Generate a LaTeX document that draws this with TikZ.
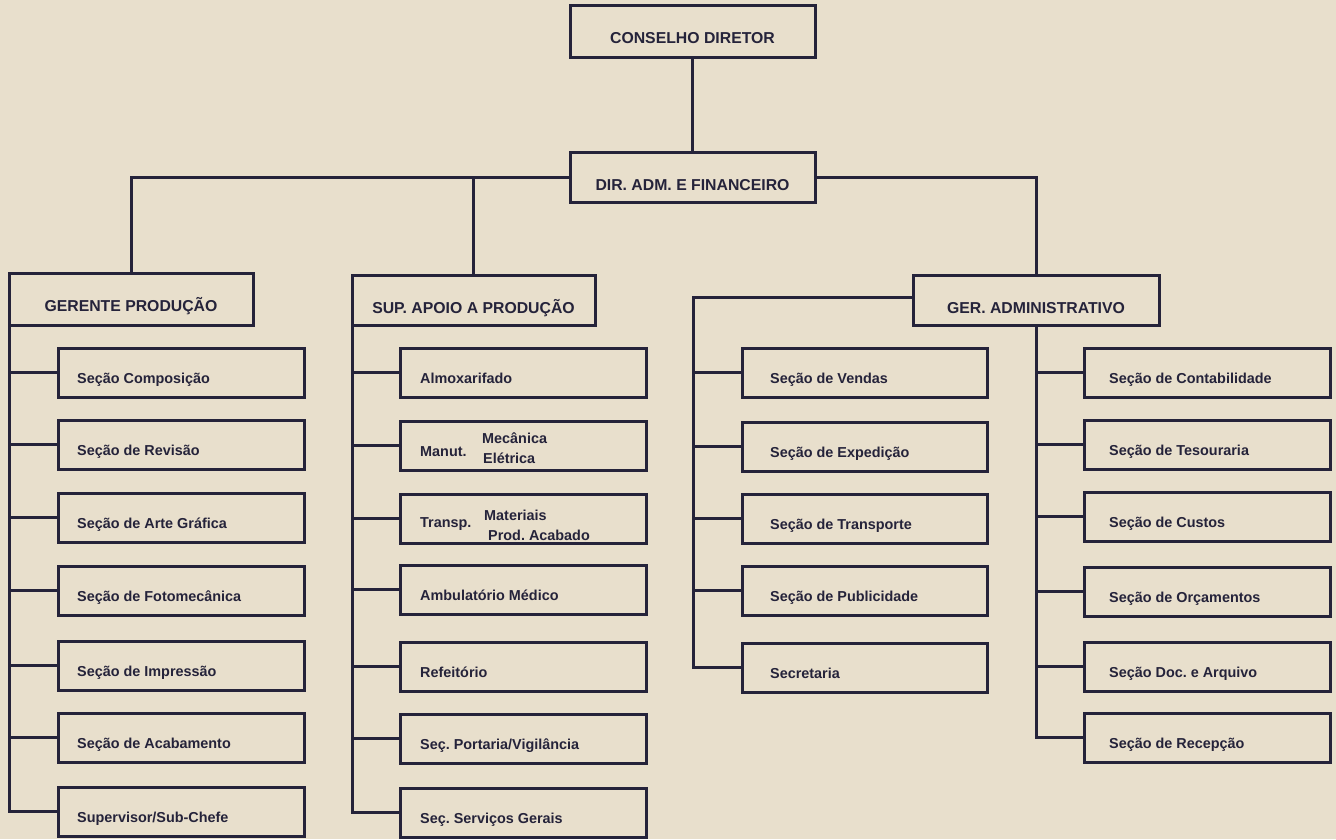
\documentclass[tikz,border=0pt]{standalone}
\usepackage{fontspec}
\setmainfont{Liberation Sans}
\frenchspacing
\usetikzlibrary{fit}
\definecolor{paper}{HTML}{E8DFCC}
\definecolor{ink}{HTML}{25233A}
% header box: name, x1, y1, x2, y2, text
\newcommand\hdbox[6]{%
  \node[orgbox, fit={(#2,#3) (#4,#5)}] (#1) {};
  \node[hdtext] (#1-t) at ([yshift=-38pt]#1.north) {#6};}
% section box: name, x1, top, x2, text offset, text
\newcommand\secbox[6]{%
  \node[orgbox, fit={(#2,#3) (#4,#3+49)}] (#1) {};
  \node[sectext] (#1-t) at ([xshift=#5pt,yshift=-35pt]#1.north west) {#6};}
\begin{document}
\begin{tikzpicture}[x=1pt,y=-1pt,
  orgbox/.style={draw=ink, line width=3pt, inner sep=0pt, outer sep=0pt},
  conn/.style={draw=ink, line width=3pt},
  hdtext/.style={font=\fontsize{15.8}{18}\selectfont\bfseries\frenchspacing, text=ink, inner sep=0pt, anchor=base},
  sectext/.style={font=\fontsize{14.4}{17}\selectfont\bfseries\frenchspacing, text=ink, inner sep=0pt, anchor=base west}]
\fill[paper] (0,0) rectangle (1336,839);
\useasboundingbox (0,0) rectangle (1336,839);

% headers
\hdbox{cd}{570}{5}{815}{57}{CONSELHO DIRETOR}
\hdbox{dir}{570}{152}{815}{202}{DIR. ADM. E FINANCEIRO}
\hdbox{gp}{9}{273}{253}{325}{GERENTE PRODUÇÃO}
\hdbox{sp}{352}{275}{595}{325}{SUP. APOIO A PRODUÇÃO}
\hdbox{ga}{913}{275}{1159}{325}{GER. ADMINISTRATIVO}

% column 1
\secbox{a1}{58}{348}{304}{19}{Seção Composição}
\secbox{a2}{58}{420}{304}{19}{Seção de Revisão}
\secbox{a3}{58}{493}{304}{19}{Seção de Arte Gráfica}
\secbox{a4}{58}{566}{304}{19}{Seção de Fotomecânica}
\secbox{a5}{58}{641}{304}{19}{Seção de Impressão}
\secbox{a6}{58}{713}{304}{19}{Seção de Acabamento}
\secbox{a7}{58}{787}{304}{19}{Supervisor/Sub-Chefe}

% column 2
\secbox{b1}{400}{348}{646}{20}{Almoxarifado}
\secbox{b2}{400}{421}{646}{20}{Manut.}
\node[sectext] (b2-m) at (482,443) {Mecânica};
\node[sectext] (b2-e) at (483,463) {Elétrica};
\node[orgbox, fit={(400,494) (646,543)}] (b3) {};
\node[sectext] (b3-t) at (420,527) {Transp.};
\node[sectext] (b3-m) at (484,520) {Materiais};
\node[sectext] (b3-p) at (488,540) {Prod. Acabado};
\secbox{b4}{400}{565}{646}{20}{Ambulatório Médico}
\secbox{b5}{400}{642}{646}{20}{Refeitório}
\secbox{b6}{400}{714}{646}{20}{Seç. Portaria/Vigilância}
\secbox{b7}{400}{788}{646}{20}{Seç. Serviços Gerais}

% column 3
\secbox{c1}{742}{348}{987}{28}{Seção de Vendas}
\secbox{c2}{742}{422}{987}{28}{Seção de Expedição}
\secbox{c3}{742}{494}{987}{28}{Seção de Transporte}
\secbox{c4}{742}{566}{987}{28}{Seção de Publicidade}
\secbox{c5}{742}{643}{987}{28}{Secretaria}

% column 4
\secbox{d1}{1084}{348}{1330}{25}{Seção de Contabilidade}
\secbox{d2}{1084}{420}{1330}{25}{Seção de Tesouraria}
\secbox{d3}{1084}{492}{1330}{25}{Seção de Custos}
\secbox{d4}{1084}{567}{1330}{25}{Seção de Orçamentos}
\secbox{d5}{1084}{642}{1330}{25}{Seção Doc. e Arquivo}
\secbox{d6}{1084}{713}{1330}{25}{Seção de Recepção}

% top connectors
\draw[conn] (cd.south) -- (dir.north);
\draw[conn] (dir.west) -| (gp.north);
\coordinate (j1) at (sp.north |- dir.west);
\draw[conn] (j1) -- (sp.north);
\draw[conn] (dir.east) -| (ga.north);

% column 1 trunk
\draw[conn] (gp.south west) |- (a7.west);
\foreach \n in {a1,a2,a3,a4,a5,a6}
  \draw[conn] (gp.south west |- \n.west) -- (\n.west);

% column 2 trunk
\draw[conn] (sp.south west) |- (b7.west);
\foreach \n in {b1,b2,b3,b4,b5,b6}
  \draw[conn] (sp.south west |- \n.west) -- (\n.west);

% column 3 trunk
\coordinate (t3) at (693,297);
\draw[conn] (ga.west |- t3) -- (t3) |- (c5.west);
\foreach \n in {c1,c2,c3,c4}
  \draw[conn] (t3 |- \n.west) -- (\n.west);

% column 4 trunk
\draw[conn] (ga.south) |- (d6.west);
\foreach \n in {d1,d2,d3,d4,d5}
  \draw[conn] (ga.south |- \n.west) -- (\n.west);
\end{tikzpicture}
\end{document}
